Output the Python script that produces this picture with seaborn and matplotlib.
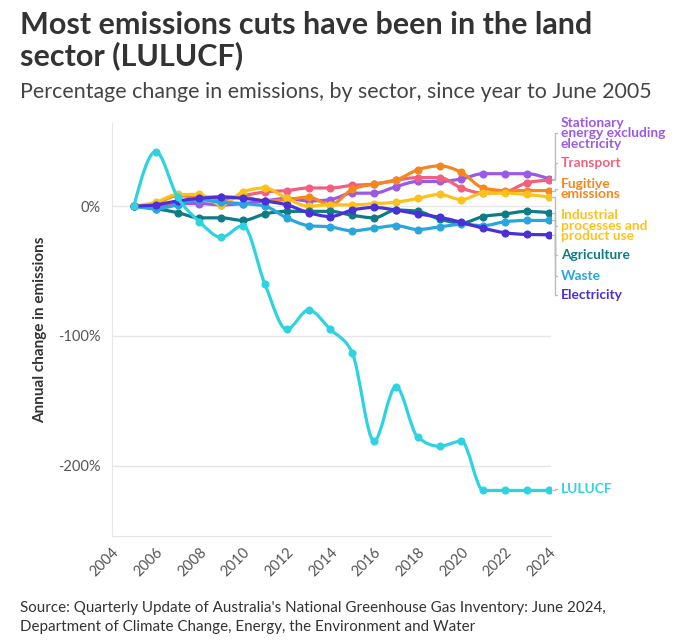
"""
Australian emissions by sector: percentage change since year to June 2005.
Run: python plot.py  ->  out.png
"""

import matplotlib.pyplot as plt
import seaborn as sns
import numpy as np
import pandas as pd
from matplotlib.path import Path
from matplotlib.patches import PathPatch

years = list(range(2005, 2025))

stationary = [0, -1, 2, 2, 1, 2, 4, 6, 4, 5, 10, 10, 15, 19, 19, 21, 25, 25, 25, 21]
transport = [0, 1, 3, 5, 5, 8, 11, 12, 14, 14, 16, 17, 20, 22, 22, 14, 10, 11, 18, 20]
fugitive = [0, 2, 8, 7, 7, 7, 4, 5, 7, 1, 13, 17, 20, 28, 31, 26, 14, 12, 12, 12]
industrial = [0, 3, 9, 9, 1, 11, 14, 6, 0, 1, 1, 2, 3, 6, 9, 5, 10, 10, 9, 7]
agriculture = [0, -2, -5, -9, -9, -11, -6, -4, -4, -4, -7, -9, -3, -4, -10, -13, -8, -6, -4, -5]
waste = [0, -2, 1, 5, 3, 2, 0, -9, -15, -16, -19, -17, -15, -18, -16, -14, -15, -12, -11, -11]
electricity = [0, 1, 4, 6, 7, 6, 4, 1, -5, -8, -3, -1, -3, -6, -8.5, -12.5, -17, -20.5, -21.8, -22]
lulucf = [0, 42, 7, -12, -24, -15, -60, -95, -80, -95, -113, -181, -139, -178, -185, -181,
          -219, -219, -219, -219]

sectors = ["Stationary energy excluding electricity", "Transport", "Fugitive emissions",
           "Industrial processes and product use", "Agriculture", "Waste", "Electricity",
           "LULUCF"]
series = [stationary, transport, fugitive, industrial, agriculture, waste, electricity, lulucf]
colors = ["#9a5ae6", "#f2607f", "#f7861c", "#fcc21b", "#0f7b85", "#2aa6df", "#4a30d8", "#2fd3e0"]
# wrapped label text and its vertical spot (in % units) beside the plot
labels = ["Stationary\nenergy excluding\nelectricity", "Transport", "Fugitive\nemissions",
          "Industrial\nprocesses and\nproduct use", "Agriculture", "Waste", "Electricity", "LULUCF"]
label_y = [56, 33, 13, -15, -38, -54, -68.5, -218]

df = pd.DataFrame(
    [(s, y, v) for s, vals in zip(sectors, series) for y, v in zip(years, vals)],
    columns=["sector", "year", "change"],
)

sns.set_style("white")
plt.rcParams["font.family"] = ["Lato", "DejaVu Sans"]


def monotone_path(x, y):
    # d3 curveMonotoneX as cubic Bezier segments
    x = np.asarray(x, float)
    y = np.asarray(y, float)
    h = np.diff(x)
    s = np.diff(y) / h
    t = np.zeros_like(y)
    for i in range(1, len(y) - 1):
        p = (s[i - 1] * h[i] + s[i] * h[i - 1]) / (h[i - 1] + h[i])
        t[i] = (np.sign(s[i - 1]) + np.sign(s[i])) * min(abs(s[i - 1]), abs(s[i]), 0.5 * abs(p))
    t[0] = (3 * s[0] - t[1]) / 2
    t[-1] = (3 * s[-1] - t[-2]) / 2
    verts = [(x[0], y[0])]
    codes = [Path.MOVETO]
    for i in range(len(x) - 1):
        d = h[i] / 3
        verts += [(x[i] + d, y[i] + d * t[i]), (x[i + 1] - d, y[i + 1] - d * t[i + 1]),
                  (x[i + 1], y[i + 1])]
        codes += [Path.CURVE4] * 3
    return Path(verts, codes)


fig = plt.figure(figsize=(6.89, 6.41), dpi=100)
ax = fig.add_axes([0.1626, 0.164, 0.637, 0.644])

for i, (name, col) in enumerate(zip(sectors, colors)):
    sub = df[df["sector"] == name]
    z = 3 + i
    ax.add_patch(PathPatch(monotone_path(sub["year"], sub["change"]), fill=False,
                           edgecolor=col, linewidth=2.3, capstyle="round", zorder=z))
    sns.scatterplot(data=sub, x="year", y="change", color=col, s=34, linewidth=0,
                    ax=ax, zorder=z, legend=False)

# right-hand labels with leader lines
for vals, lab, ly, col in zip(series, labels, label_y, colors):
    end = vals[-1]
    ax.plot([2024.12, 2024.27, 2024.27, 2024.4], [end, end, ly, ly], color="#bdbdbd",
            linewidth=1, clip_on=False, zorder=1)
    ax.text(2024.55, ly, lab, color=col, fontsize=9.9, fontweight="bold", va="center",
            ha="left", linespacing=0.82)

ax.set_xlim(2004, 2024.1)
ax.set_ylim(-254, 64)
ax.set_xticks(range(2004, 2025, 2))
ax.set_yticks([0, -100, -200])
ax.set_yticklabels(["0%", "-100%", "-200%"])
ax.yaxis.grid(True, color="#e6e6e6", linewidth=1)
ax.set_xlabel("")
ax.set_ylabel("Annual change in emissions", fontsize=11, fontweight="bold", color="#333333",
              labelpad=8)
for sp in ["top", "right"]:
    ax.spines[sp].set_visible(False)
ax.spines["left"].set_color("#e6e6e6")
ax.spines["bottom"].set_color("#e6e6e6")
ax.tick_params(axis="y", length=6, color="#e6e6e6", labelsize=10.5, labelcolor="#555555", pad=2)
ax.tick_params(axis="x", length=5, color="#e6e6e6", labelsize=10.5, labelcolor="#555555", pad=2)
plt.setp(ax.get_xticklabels(), rotation=45, ha="right", rotation_mode="anchor")

title_kw = dict(fontsize=22, fontweight="bold", color="#333333", va="baseline")
fig.text(0.029, 1 - 34 / 641, "Most emissions cuts have been in the land", **title_kw)
fig.text(0.029, 1 - 65 / 641, "sector (LULUCF)", **title_kw)
fig.text(0.029, 1 - 98 / 641, "Percentage change in emissions, by sector, since year to June 2005",
         fontsize=15.4, color="#444444", va="baseline")
source_kw = dict(fontsize=10.9, color="#333333", va="baseline")
fig.text(0.029, 1 - 612 / 641, "Source: Quarterly Update of Australia's National Greenhouse Gas "
         "Inventory: June 2024,", **source_kw)
fig.text(0.029, 1 - 631 / 641, "Department of Climate Change, Energy, the Environment and Water",
         **source_kw)

fig.savefig("out.png", dpi=100)
